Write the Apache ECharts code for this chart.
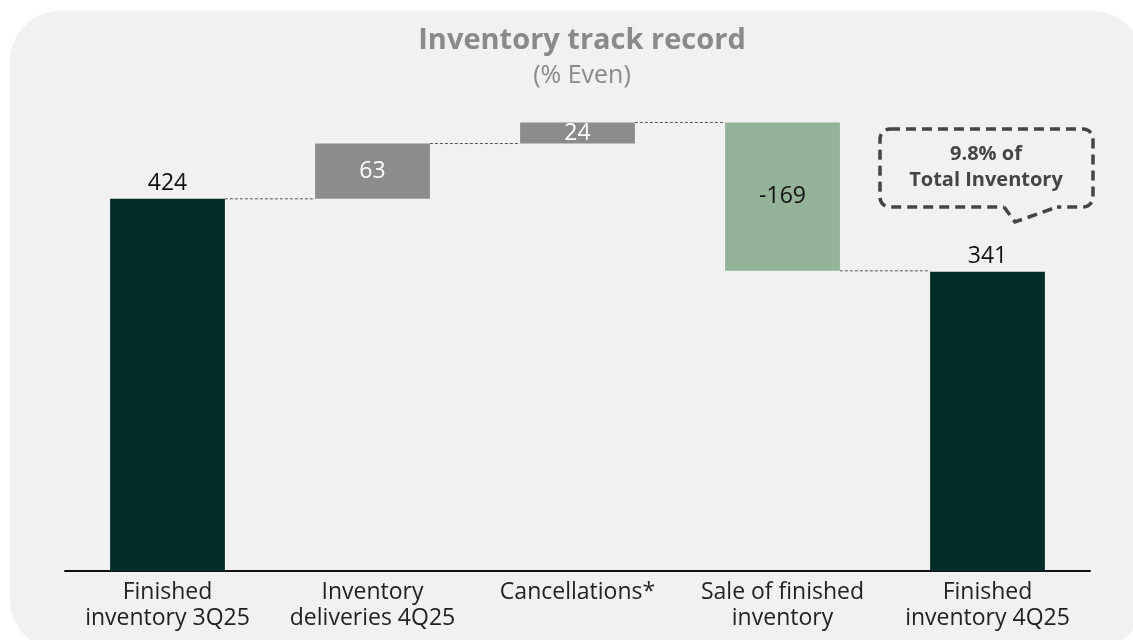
<!DOCTYPE html>
<html><head><meta charset="utf-8">
<script src="https://cdn.jsdelivr.net/npm/echarts@6/dist/echarts.min.js"></script>
<style>html,body{margin:0;padding:0;background:#fff}#c{width:1133px;height:640px}</style>
</head><body><div id="c"></div>
<script>
const categories = ['Finished\ninventory 3Q25', 'Inventory\ndeliveries 4Q25', 'Cancellations*', 'Sale of finished\ninventory', 'Finished\ninventory 4Q25'];
const values = [424, 63, 24, -169, 341];
const kinds = ['total', 'delta', 'delta', 'delta', 'total'];

const colors = { total: '#012c27', up: '#8c8c8c', down: '#95b399' };
const FONT = '"Open Sans", Lato, sans-serif';

// derive waterfall base/height and running levels
const base = [], height = [], levels = [];
let run = 0;
values.forEach((v, i) => {
  if (kinds[i] === 'total') { base.push(0); height.push(v); run = v; }
  else if (v >= 0) { base.push(run); height.push(v); run += v; }
  else { base.push(run + v); height.push(-v); run += v; }
  levels.push(run);
});

const labelStyle = (i) => {
  const v = values[i];
  if (kinds[i] === 'total') return { show: true, position: 'top', color: '#111', fontSize: 23, fontFamily: FONT, distance: 4 };
  if (v >= 0) return { show: true, position: 'inside', color: '#fff', fontSize: 23, fontFamily: FONT };
  return { show: true, position: 'inside', color: '#111', fontSize: 23, fontFamily: FONT };
};

const deltaData = height.map((h, i) => ({
  value: h,
  itemStyle: { color: kinds[i] === 'total' ? colors.total : (values[i] >= 0 ? colors.up : colors.down) },
  label: Object.assign(labelStyle(i), { formatter: () => String(values[i]) })
}));

const dashStyle = { fill: 'none', stroke: '#444', lineWidth: 3.5, lineDash: [10, 6] };

const chart = echarts.init(document.getElementById('c'));
chart.setOption({
  backgroundColor: '#fff',
  animation: false,
  title: {
    text: 'Inventory track record',
    subtext: '(% Even)',
    left: 577, textAlign: 'center', top: 21,
    textStyle: { fontSize: 29, fontWeight: 'bold', color: '#8a8a8a', fontFamily: FONT },
    subtextStyle: { fontSize: 25, color: '#8a8a8a', fontFamily: FONT },
    itemGap: 8
  },
  graphic: [
    { type: 'rect', z: -10, silent: true, shape: { x: 10, y: 11, width: 1133, height: 639, r: 50 }, style: { fill: '#f1f1f1' } },
    { type: 'rect', z: 10, silent: true, shape: { x: 880, y: 129, width: 213, height: 78, r: 10 }, style: dashStyle },
    { type: 'line', z: 11, silent: true, shape: { x1: 1004, y1: 207, x2: 1057, y2: 207 }, style: { stroke: '#f1f1f1', lineWidth: 6 } },
    { type: 'polyline', z: 12, silent: true, shape: { points: [[1004, 207], [1015, 222], [1057, 207]] }, style: dashStyle },
    {
      type: 'text', z: 13, silent: true, x: 986, y: 141,
      style: { text: '9.8% of\nTotal Inventory', align: 'center', fill: '#444', font: 'bold 20px ' + FONT, lineHeight: 26 }
    }
  ],
  grid: { left: 65, right: 43, top: 97, bottom: 69, containLabel: false },
  xAxis: {
    type: 'category', data: categories,
    axisLine: { lineStyle: { color: '#111', width: 2 } },
    axisTick: { show: false },
    axisLabel: { fontSize: 23, color: '#222', fontFamily: FONT, lineHeight: 26, margin: 8, interval: 0 }
  },
  yAxis: { type: 'value', min: 0, max: 540, show: false, splitLine: { show: false } },
  series: [
    { name: 'base', type: 'bar', stack: 'w', data: base, itemStyle: { color: 'transparent' }, barWidth: '56%', silent: true },
    { name: 'delta', type: 'bar', stack: 'w', data: deltaData, barWidth: '56%' },
    {
      name: 'connectors', type: 'custom', z: 5, silent: true,
      data: levels.slice(0, -1).map((l, i) => [i, l]),
      renderItem: (params, api) => {
        const i = api.value(0), lvl = api.value(1);
        const bw = api.size([1, 0])[0] * 0.56;
        const p1 = api.coord([i, lvl]), p2 = api.coord([i + 1, lvl]);
        return {
          type: 'line',
          shape: { x1: p1[0] + bw / 2, y1: p1[1], x2: p2[0] - bw / 2, y2: p2[1] },
          style: { stroke: '#555', lineWidth: 1, lineDash: [3, 2] }
        };
      }
    }
  ]
});
</script></body></html>
